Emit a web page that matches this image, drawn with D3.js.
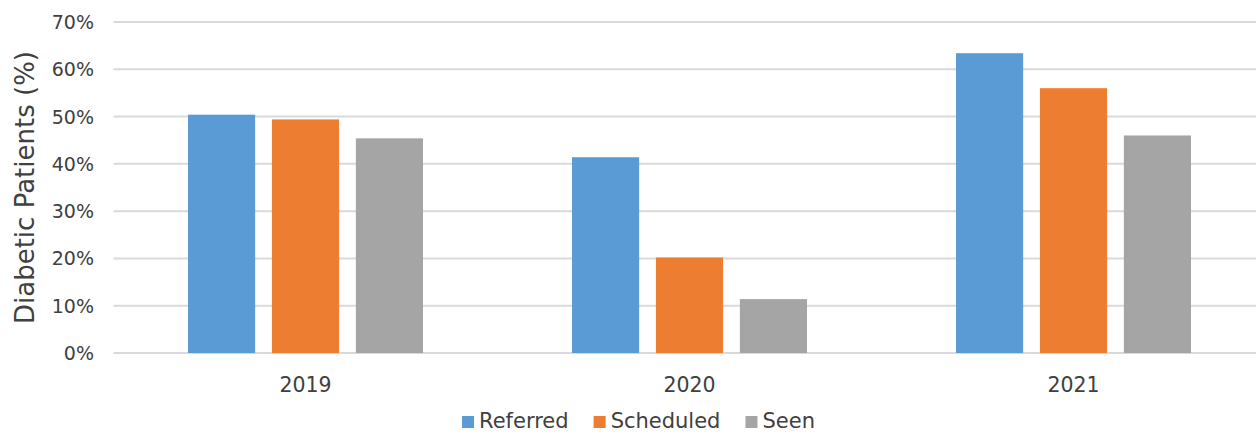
<!DOCTYPE html>
<html>
<head>
<meta charset="utf-8">
<script src="https://cdn.jsdelivr.net/npm/d3@7"></script>
<style>
  body { margin: 0; background: #fff; }
  svg text { font-family: "DejaVu Sans", sans-serif; fill: #404040; }
</style>
</head>
<body>
<svg id="chart" width="1256" height="434"></svg>
<script>
const years = ['2019', '2020', '2021'];
const seriesNames = ['Referred', 'Scheduled', 'Seen'];
const seriesColors = ['#5b9bd5', '#ed7d31', '#a5a5a5'];
const referred = [50.4, 41.4, 63.4];
const scheduled = [49.4, 20.2, 56.0];
const seen = [45.4, 11.4, 46.0];
const yTicks = [0, 10, 20, 30, 40, 50, 60, 70];

const seriesValues = [referred, scheduled, seen];
const rows = years.map((y, i) => ({
  year: y,
  values: seriesNames.map((s, j) => ({series: s, value: seriesValues[j][i]}))
}));

const svg = d3.select('#chart');
const width = 1256, height = 434;
// plot area runs a little past the right edge of the picture
const plot = {left: 113.5, right: 1265.5, top: 22, bottom: 353};

const x0 = d3.scaleBand()
  .domain(years)
  .range([plot.left, plot.right])
  .padding(0);
const outer = 74.5;
const x1 = d3.scaleBand()
  .domain(seriesNames)
  .range([outer, x0.bandwidth() - outer])
  .paddingInner(0.2)
  .paddingOuter(0);
const y = d3.scaleLinear()
  .domain([0, 70])
  .range([plot.bottom, plot.top]);
const color = d3.scaleOrdinal().domain(seriesNames).range(seriesColors);

// gridlines
svg.append('g')
  .attr('class', 'grid')
  .selectAll('line')
  .data(yTicks)
  .join('line')
    .attr('x1', plot.left)
    .attr('x2', width)
    .attr('y1', d => y(d))
    .attr('y2', d => y(d))
    .style('stroke', '#d9d9d9')
    .style('stroke-width', 2);

// y axis labels
const yAxis = svg.append('g')
  .attr('transform', `translate(${94},0)`)
  .call(d3.axisLeft(y).tickValues(yTicks).tickFormat(d => d + '%').tickSize(0).tickPadding(0));
yAxis.select('.domain').remove();
yAxis.selectAll('text')
  .attr('font-size', 19)
  .attr('dy', '0.34em')
  .style('font-family', '"DejaVu Sans", sans-serif')
  .style('fill', '#404040');

// bars
svg.append('g')
  .selectAll('g')
  .data(rows)
  .join('g')
    .attr('transform', d => `translate(${x0(d.year)},0)`)
  .selectAll('rect')
  .data(d => d.values)
  .join('rect')
    .attr('x', d => x1(d.series))
    .attr('width', x1.bandwidth())
    .attr('y', d => y(d.value))
    .attr('height', d => y(0) - y(d.value))
    .style('fill', d => color(d.series));

// x axis labels
const xAxis = svg.append('g')
  .attr('transform', `translate(0,392)`)
  .call(d3.axisBottom(x0).tickSize(0).tickPadding(0));
xAxis.select('.domain').remove();
xAxis.selectAll('text')
  .attr('font-size', 20.5)
  .attr('dy', 0)
  .style('font-family', '"DejaVu Sans", sans-serif')
  .style('fill', '#404040');

// y title
svg.append('text')
  .attr('transform', `translate(34,${(y(0) + y(70)) / 2}) rotate(-90)`)
  .attr('text-anchor', 'middle')
  .attr('font-size', 26)
  .text('Diabetic Patients (%)');

// legend
const legend = svg.append('g').attr('class', 'legend');
const items = legend.selectAll('g')
  .data(seriesNames)
  .join('g');
items.append('rect')
  .attr('width', 12)
  .attr('height', 12)
  .attr('y', -12)
  .style('fill', d => color(d));
items.append('text')
  .attr('x', 17)
  .attr('font-size', 21)
  .text(d => d);
let lx = 0;
const gap = 25;
items.each(function () {
  const w = this.getBBox().width;
  d3.select(this).attr('transform', `translate(${lx},0)`);
  lx += w + gap;
});
lx -= gap;
legend.attr('transform', `translate(${638.5 - lx / 2},428)`);
</script>
</body>
</html>
